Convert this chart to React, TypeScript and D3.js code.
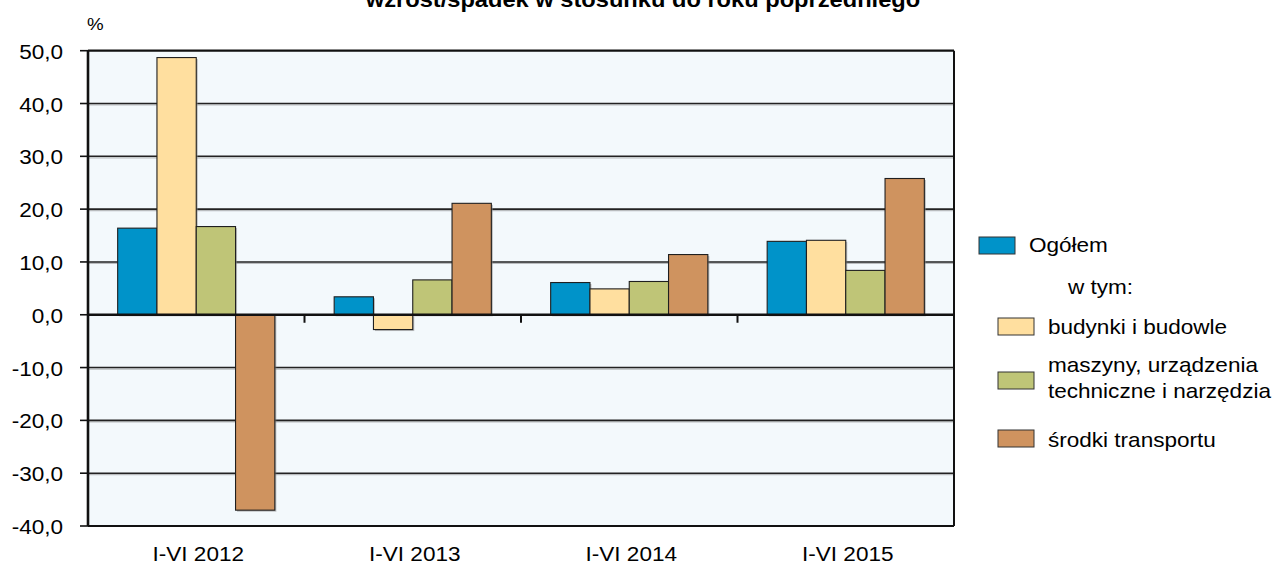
import * as d3 from "d3";
import React from "react";

// chart values
const categories = ["I-VI 2012", "I-VI 2013", "I-VI 2014", "I-VI 2015"];
const seriesNames = [
  "Ogółem",
  "budynki i budowle",
  "maszyny, urządzenia techniczne i narzędzia",
  "środki transportu",
];
const ogolem = [16.4, 3.4, 6.1, 13.9];
const budynki = [48.7, -2.8, 4.9, 14.1];
const maszyny = [16.7, 6.6, 6.3, 8.4];
const transport = [-37.0, 21.1, 11.4, 25.8];
const yTicks = [50, 40, 30, 20, 10, 0, -10, -20, -30, -40];
const colors = ["#0093c9", "#ffdf9f", "#bfc577", "#cf935f"];

const W = 1282;
const H = 563;
const FONT = "'Liberation Sans', Arial, sans-serif";
const SX = 1.1; // source font is a bit wider than Arial

const App = () => {
  const marginLeft = 88;
  const plotRight = 954;
  const plotTop = 50.7;
  const plotBottom = 526;

  const x0 = d3
    .scaleBand()
    .domain(categories)
    .range([marginLeft, plotRight])
    .paddingInner(0)
    .paddingOuter(0);

  const x1 = d3
    .scaleBand()
    .domain(seriesNames)
    .range([0, x0.bandwidth()])
    .paddingInner(0)
    .paddingOuter(0.755);

  const y = d3.scaleLinear().domain([-40, 50]).range([plotBottom, plotTop]);

  const allSeries = [ogolem, budynki, maszyny, transport];
  const fmt = (v) => d3.format(".1f")(v).replace(".", ",").replace("−", "-");

  const bars = [];
  categories.forEach((c, ci) => {
    seriesNames.forEach((s, si) => {
      const v = allSeries[si][ci];
      const bx = x0(c) + x1(s);
      const by = y(Math.max(0, v));
      const bh = Math.abs(y(v) - y(0));
      bars.push({ key: `${ci}-${si}`, x: bx, y: by, w: x1.bandwidth(), h: bh, fill: colors[si] });
    });
  });

  const sText = (x, y, txt, opts = {}) => (
    <text
      transform={`translate(${x},${y}) scale(${SX},1)`}
      textAnchor={opts.anchor || "start"}
      fontSize={opts.size || 20.5}
      fontWeight={opts.weight || "normal"}
      fontFamily={FONT}
      fill="#000"
    >
      {txt}
    </text>
  );

  // legend
  const legend = [
    { color: colors[0], sx: 979, sy: 237, lines: ["Ogółem"], tx: 1029, ty: 252 },
    { color: colors[1], sx: 998, sy: 318, lines: ["budynki i budowle"], tx: 1048, ty: 334 },
    { color: colors[2], sx: 998, sy: 372, lines: ["maszyny, urządzenia", "techniczne i narzędzia"], tx: 1048, ty: 372 },
    { color: colors[3], sx: 998, sy: 430, lines: ["środki transportu"], tx: 1048, ty: 447 },
  ];

  return (
    <svg
      width={W}
      height={H}
      style={{ position: "absolute", left: 0, top: 0, background: "#fff" }}
    >
      {/* title, cut off at the top like the source */}
      {sText(643, 7, "wzrost/spadek w stosunku do roku poprzedniego", {
        anchor: "middle",
        weight: "bold",
        size: 21.5,
      })}

      {sText(87, 30, "%", { size: 17 })}

      {/* plot background */}
      <rect x={marginLeft} y={plotTop} width={plotRight - marginLeft} height={plotBottom - plotTop} fill="#f3f9fc" />

      {/* gridlines */}
      {yTicks
        .filter((t) => t !== 0 && t !== 50 && t !== -40)
        .map((t) => (
          <g key={t}>
            <line x1={marginLeft} x2={plotRight} y1={y(t) + 1.5} y2={y(t) + 1.5} stroke="#b9bcbe" strokeWidth={1.2} />
            <line x1={marginLeft} x2={plotRight} y1={y(t)} y2={y(t)} stroke="#222" strokeWidth={1.6} />
          </g>
        ))}

      {/* bars */}
      {bars.map((b) => (
        <g key={b.key}>
          <rect x={b.x + 1.5} y={b.y + 1.5} width={b.w} height={b.h} fill="#8a8a8a" opacity={0.55} />
          <rect x={b.x} y={b.y} width={b.w} height={b.h} fill={b.fill} stroke="#1f1f1f" strokeWidth={1.1} />
        </g>
      ))}

      {/* zero line and category ticks */}
      <line x1={marginLeft} x2={plotRight} y1={y(0)} y2={y(0)} stroke="#111" strokeWidth={2.6} />
      {categories.map((c) => (
        <line key={c} x1={x0(c)} x2={x0(c)} y1={y(0)} y2={y(0) + 8} stroke="#111" strokeWidth={2} />
      ))}

      {/* frame */}
      <line x1={marginLeft} x2={plotRight} y1={plotTop} y2={plotTop} stroke="#111" strokeWidth={2.2} />
      <line x1={marginLeft} x2={plotRight} y1={plotBottom} y2={plotBottom} stroke="#111" strokeWidth={2.2} />
      <line x1={plotRight} x2={plotRight} y1={plotTop} y2={plotBottom} stroke="#111" strokeWidth={2} />
      <line x1={marginLeft} x2={marginLeft} y1={plotTop} y2={plotBottom} stroke="#111" strokeWidth={2.6} />

      {/* y axis ticks and labels */}
      {yTicks.map((t) => (
        <g key={t}>
          <line x1={80} x2={marginLeft} y1={y(t)} y2={y(t)} stroke="#111" strokeWidth={1.6} />
          {sText(63, y(t) + 8, fmt(t), { anchor: "end" })}
        </g>
      ))}

      {/* x labels */}
      {categories.map((c) => (
        <g key={c}>{sText(x0(c) + x0.bandwidth() / 2 + 2, 561, c, { anchor: "middle" })}</g>
      ))}

      {/* legend */}
      {legend.map((l, i) => (
        <g key={i}>
          <rect x={l.sx} y={l.sy} width={36} height={17} fill={l.color} stroke="#333" strokeWidth={1} />
          {l.lines.map((ln, j) => (
            <g key={j}>{sText(l.tx, l.ty + j * 26, ln)}</g>
          ))}
        </g>
      ))}
      {sText(1068, 294, "w tym:")}
    </svg>
  );
};

export default App;
